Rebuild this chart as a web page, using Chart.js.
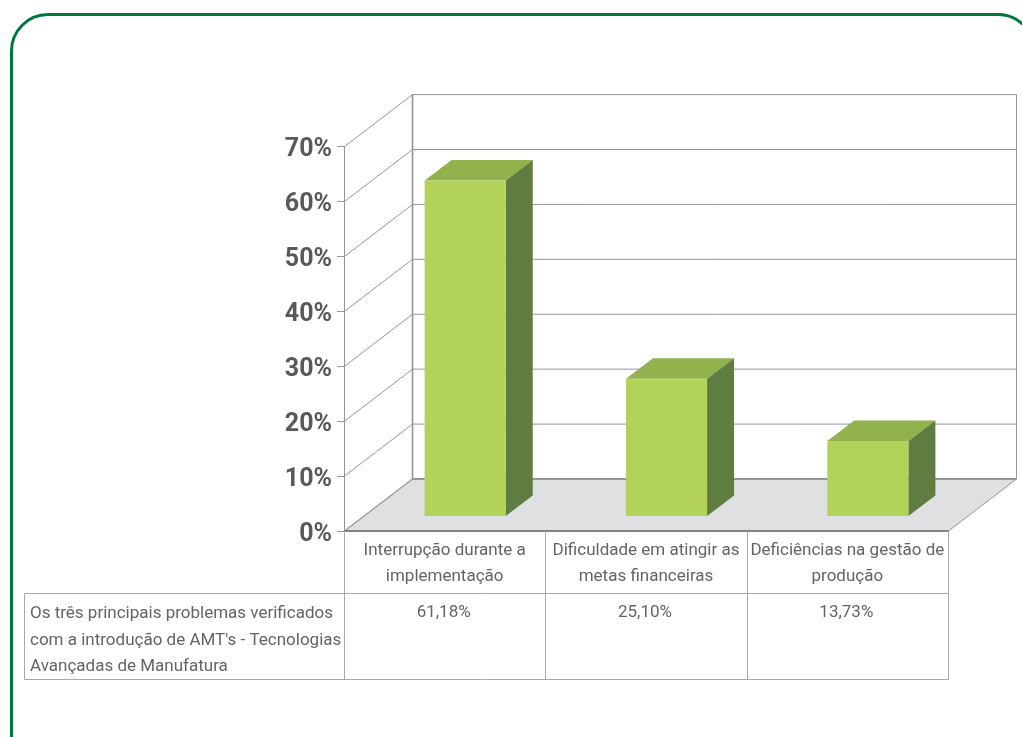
<!DOCTYPE html>
<html lang="pt">
<head>
<meta charset="utf-8">
<title>Principais problemas</title>
<script src="https://cdn.jsdelivr.net/npm/chart.js@4/dist/chart.umd.min.js"></script>
<style>
  html, body { margin: 0; padding: 0; background: #fff; width: 1022px; height: 737px; overflow: hidden; }
  #frame { position: absolute; left: 10px; top: 13px; width: 1026px; height: 900px; border: 3px solid #00783c; border-radius: 38px; box-sizing: border-box; }
  #chart { position: absolute; left: 0; top: 0; }
</style>
</head>
<body>
<div id="frame"></div>
<canvas id="chart" width="1022" height="737"></canvas>
<script>
// Data
const categories = [
  ['Interrupção durante a', 'implementação'],
  ['Dificuldade em atingir as', 'metas financeiras'],
  ['Deficiências na gestão de', 'produção'],
];
const values = [61.18, 25.10, 13.73];
const valueLabels = ['61,18%', '25,10%', '13,73%'];
const seriesLines = [
  'Os três principais problemas verificados',
  "com a introdução de AMT's - Tecnologias",
  'Avançadas de Manufatura',
];

const FONT = 'Roboto, "Liberation Sans", sans-serif';
const TEXT = '#636466';
const LINE = '#a7a9ac';
const WALL = '#939598';

// Depth of the floor and of the bars, in pixels
const DEPTH = { x: 68, y: -52 };
const BAR_SHIFT = { x: 20.5, y: -14.5 };
const BAR_DEPTH = { x: 27, y: -20.5 };

function strokeLine(ctx, x1, y1, x2, y2, color, width) {
  ctx.strokeStyle = color;
  ctx.lineWidth = width;
  ctx.beginPath();
  ctx.moveTo(x1, y1);
  ctx.lineTo(x2, y2);
  ctx.stroke();
}

function fillPoly(ctx, color, pts) {
  ctx.fillStyle = color;
  ctx.beginPath();
  pts.forEach(([x, y], i) => (i ? ctx.lineTo(x, y) : ctx.moveTo(x, y)));
  ctx.closePath();
  ctx.fill();
}

// ─── Walls and floor ──────────────────────────────────────────────────────────
const wallsPlugin = {
  id: 'walls',
  beforeDatasetsDraw(chart) {
    const { ctx, chartArea: a, scales: { y } } = chart;
    const x0 = a.left + 0.5, x1 = a.right + 0.5;
    const base = Math.round(y.getPixelForValue(0));
    const top = y.getPixelForValue(70);
    ctx.save();

    fillPoly(ctx, '#dfe0e2', [
      [x0, base], [x0 + DEPTH.x, base + DEPTH.y],
      [x1 + DEPTH.x, base + DEPTH.y], [x1, base],
    ]);

    y.ticks.forEach(t => {
      const py = y.getPixelForValue(t.value);
      if (t.value > 0) {
        strokeLine(ctx, x0, py, x0 + DEPTH.x, py + DEPTH.y, WALL, 1);
        strokeLine(ctx, x0 + DEPTH.x, py + DEPTH.y, x1 + DEPTH.x, py + DEPTH.y, WALL, 1);
      }
    });
    strokeLine(ctx, x0, base, x0 + DEPTH.x, base + DEPTH.y, WALL, 1.2);
    strokeLine(ctx, x1, base, x1 + DEPTH.x, base + DEPTH.y, WALL, 1);
    strokeLine(ctx, x0 + DEPTH.x, top + DEPTH.y, x0 + DEPTH.x, base + DEPTH.y, WALL, 1.6);
    strokeLine(ctx, x1 + DEPTH.x, top + DEPTH.y, x1 + DEPTH.x, base + DEPTH.y, WALL, 1);
    strokeLine(ctx, x0 + DEPTH.x, base + DEPTH.y, x1 + DEPTH.x, base + DEPTH.y, WALL, 1.8);
    ctx.restore();
  },
};

// ─── 3D bars: the library bar is the front face ───────────────────────────────
const barsPlugin = {
  id: 'bars3d',
  beforeDatasetDraw(chart, args) {
    const { ctx } = chart;
    ctx.save();
    ctx.translate(BAR_SHIFT.x, BAR_SHIFT.y);
    args.meta.data.forEach(bar => {
      const l = bar.x - bar.width / 2, r = bar.x + bar.width / 2;
      const d = BAR_DEPTH;
      fillPoly(ctx, '#91b24d', [[l, bar.y], [l + d.x, bar.y + d.y], [r + d.x, bar.y + d.y], [r, bar.y]]);
      fillPoly(ctx, '#5f7d40', [[r, bar.y], [r + d.x, bar.y + d.y], [r + d.x, bar.base + d.y], [r, bar.base]]);
    });
  },
  afterDatasetDraw(chart) {
    chart.ctx.restore();
  },
};

// ─── Data table under the axis ────────────────────────────────────────────────
const tablePlugin = {
  id: 'dataTable',
  afterDraw(chart) {
    const { ctx, chartArea: a, scales: { x, y } } = chart;
    const base = Math.round(y.getPixelForValue(0));
    const rowTop = 593.5, rowBottom = 679.5, leftEdge = 24.5;
    const step = (a.right - a.left) / categories.length;
    ctx.save();

    strokeLine(ctx, a.left, base, a.right + 1, base, '#808285', 1.8);
    for (let i = 0; i <= categories.length; i++) {
      const px = Math.round(a.left + i * step) + 0.5;
      strokeLine(ctx, px, base, px, rowBottom, LINE, 1);
    }
    strokeLine(ctx, leftEdge, rowTop, a.right + 1, rowTop, LINE, 1);
    strokeLine(ctx, leftEdge, rowBottom, a.right + 1, rowBottom, LINE, 1);
    strokeLine(ctx, leftEdge, rowTop, leftEdge, rowBottom, LINE, 1);

    ctx.fillStyle = TEXT;
    ctx.font = '17px ' + FONT;
    ctx.textBaseline = 'middle';
    ctx.textAlign = 'left';
    seriesLines.forEach((line, i) => ctx.fillText(line, 30, 614 + i * 26.5));
    ctx.textAlign = 'center';
    valueLabels.forEach((label, i) => ctx.fillText(label, x.getPixelForValue(i) - 1, 613));
    ctx.restore();
  },
};

// ─── Chart ────────────────────────────────────────────────────────────────────
new Chart(document.getElementById('chart'), {
  type: 'bar',
  data: {
    labels: categories,
    datasets: [{
      data: values,
      backgroundColor: '#b2d25a',
      borderWidth: 0,
      categoryPercentage: 1,
      barPercentage: 0.403,
    }],
  },
  options: {
    responsive: false,
    animation: false,
    devicePixelRatio: 1,
    layout: { padding: { left: 264, right: 74, top: 146.6, bottom: 106 } },
    plugins: { legend: { display: false }, tooltip: { enabled: false } },
    scales: {
      x: {
        grid: { display: false },
        border: { display: false },
        ticks: { color: TEXT, font: { family: FONT, size: 17, lineHeight: 1.5 }, padding: -1, maxRotation: 0, autoSkip: false },
        afterFit: scale => { scale.height = 100; },
      },
      y: {
        min: 0,
        max: 70,
        grid: { drawOnChartArea: false, drawTicks: true, tickLength: 7, color: WALL },
        border: { display: true, color: WALL, width: 1 },
        ticks: {
          stepSize: 10,
          color: '#58595b',
          padding: 5,
          // empty first line with a short line height moves the label down a little
          font: { family: FONT, size: 25, weight: 'bold', lineHeight: 0.28 },
          callback: v => ['', v + '%'],
        },
        afterFit: scale => { scale.width = 80; },
      },
    },
  },
  plugins: [wallsPlugin, barsPlugin, tablePlugin],
});
</script>
</body>
</html>
